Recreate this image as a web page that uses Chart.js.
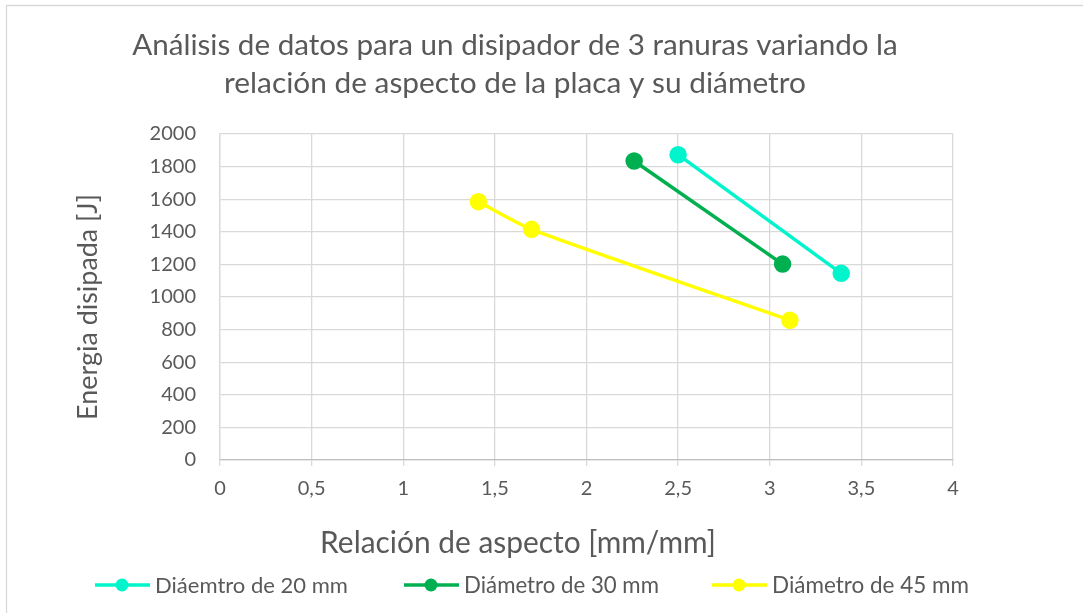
<!DOCTYPE html>
<html>
<head>
<meta charset="utf-8">
<script src="https://cdn.jsdelivr.net/npm/chart.js@4.4.1/dist/chart.umd.min.js"></script>
<style>
  html, body { margin: 0; padding: 0; background: #ffffff; }
  #wrap { width: 1083px; height: 613px; position: relative; }
</style>
</head>
<body>
<div id="wrap"><canvas id="c" width="1083" height="613"></canvas></div>
<script>
// Aspect ratio (x) and dissipated energy (y) for each plate diameter
const seriesNames = ['Diáemtro de 20 mm', 'Diámetro de 30 mm', 'Diámetro de 45 mm'];
const aspect20 = [2.50, 3.39];
const energy20 = [1873, 1145];
const aspect30 = [2.26, 3.07];
const energy30 = [1834, 1202];
const aspect45 = [1.41, 1.70, 3.11];
const energy45 = [1585, 1415, 857];

const xTickLabels = ['0', '0,5', '1', '1,5', '2', '2,5', '3', '3,5', '4'];
const yTickValues = [0, 200, 400, 600, 800, 1000, 1200, 1400, 1600, 1800, 2000];

const titleLines = [
  'Análisis de datos para un disipador de 3 ranuras variando la',
  'relación de aspecto de la placa y su diámetro'
];
const xTitle = 'Relación de aspecto [mm/mm]';
const yTitle = 'Energia disipada [J]';

const colors = ['#00F5CC', '#00B050', '#FFFF00'];
const textColor = '#595959';
const gridColor = '#d9d9d9';
const FONT = 'Lato, "Open Sans", sans-serif';

function pts(xs, ys) { return xs.map((x, i) => ({ x: x, y: ys[i] })); }

const datasets = [
  { label: seriesNames[0], data: pts(aspect20, energy20), tension: 0 },
  { label: seriesNames[1], data: pts(aspect30, energy30), tension: 0 },
  { label: seriesNames[2], data: pts(aspect45, energy45), tension: 0.2 }
].map((d, i) => Object.assign(d, {
  borderColor: colors[i],
  backgroundColor: colors[i],
  pointBackgroundColor: colors[i],
  pointBorderColor: colors[i],
  borderWidth: 3.5,
  pointRadius: 7,
  pointHoverRadius: 7,
  showLine: true
}));

// Draw text scaled into a target width
function fitText(ctx, text, cx, cy, width, size, rotate) {
  ctx.save();
  ctx.font = size + 'px ' + FONT;
  const w = ctx.measureText(text).width;
  ctx.translate(cx, cy);
  if (rotate) ctx.rotate(-Math.PI / 2);
  const s = width / w;
  ctx.font = (size * s) + 'px ' + FONT;
  ctx.fillStyle = textColor;
  ctx.textAlign = 'center';
  ctx.textBaseline = 'middle';
  ctx.fillText(text, 0, 0);
  ctx.restore();
}

const decorations = {
  id: 'decorations',
  beforeDraw(chart) {
    const ctx = chart.ctx;
    ctx.save();
    ctx.fillStyle = '#ffffff';
    ctx.fillRect(0, 0, chart.width, chart.height);
    ctx.strokeStyle = gridColor;
    ctx.lineWidth = 1.3;
    ctx.beginPath();
    ctx.moveTo(6.5, chart.height);
    ctx.lineTo(6.5, 5.5);
    ctx.lineTo(chart.width, 5.5);
    ctx.stroke();
    ctx.restore();
  },
  afterDraw(chart) {
    const ctx = chart.ctx;
    // chart title
    fitText(ctx, titleLines[0], 515, 45, 766, 26);
    fitText(ctx, titleLines[1], 515, 83, 582, 26);
    // axis titles
    fitText(ctx, xTitle, 518, 543, 396, 26);
    fitText(ctx, yTitle, 88, 307, 226, 24, true);
    // legend
    const legendY = 585;
    const lx = [95, 404, 712];
    const textW = [193, 195, 197];
    chart.data.datasets.forEach((ds, i) => {
      ctx.save();
      ctx.strokeStyle = ds.borderColor;
      ctx.lineWidth = 3.5;
      ctx.beginPath();
      ctx.moveTo(lx[i], legendY);
      ctx.lineTo(lx[i] + 55, legendY);
      ctx.stroke();
      ctx.fillStyle = ds.borderColor;
      ctx.beginPath();
      ctx.arc(lx[i] + 27, legendY, 6.5, 0, Math.PI * 2);
      ctx.fill();
      ctx.restore();
      fitText(ctx, ds.label, lx[i] + 60 + textW[i] / 2, legendY + 1, textW[i], 19);
    });
  }
};

new Chart(document.getElementById('c'), {
  type: 'scatter',
  data: { datasets: datasets },
  options: {
    responsive: false,
    animation: false,
    layout: { padding: { left: 0, right: 130, top: 134, bottom: 0 } },
    plugins: {
      legend: { display: false },
      title: { display: false },
      tooltip: { enabled: false }
    },
    scales: {
      x: {
        type: 'linear',
        min: 0,
        max: 4,
        afterBuildTicks(scale) {
          scale.ticks = xTickLabels.map((_, i) => ({ value: i * 0.5 }));
        },
        afterFit(scale) { scale.height = 153; },
        grid: { color: gridColor, lineWidth: 1.3, drawTicks: true, tickLength: 6, tickColor: gridColor },
        border: { color: '#bfbfbf', width: 1.3 },
        ticks: {
          color: textColor,
          font: { family: FONT, size: 20 },
          padding: 11,
          maxRotation: 0,
          callback(value, index) { return xTickLabels[index]; }
        }
      },
      y: {
        type: 'linear',
        min: 0,
        max: 2000,
        afterBuildTicks(scale) {
          scale.ticks = yTickValues.map(v => ({ value: v }));
        },
        afterFit(scale) { scale.width = 220; },
        grid: { color: gridColor, lineWidth: 1.3, drawTicks: false },
        border: { color: gridColor, width: 1.3 },
        ticks: {
          color: textColor,
          font: { family: FONT, size: 20 },
          padding: 24,
          callback(value) { return String(value); }
        }
      }
    }
  },
  plugins: [decorations]
});
</script>
</body>
</html>
